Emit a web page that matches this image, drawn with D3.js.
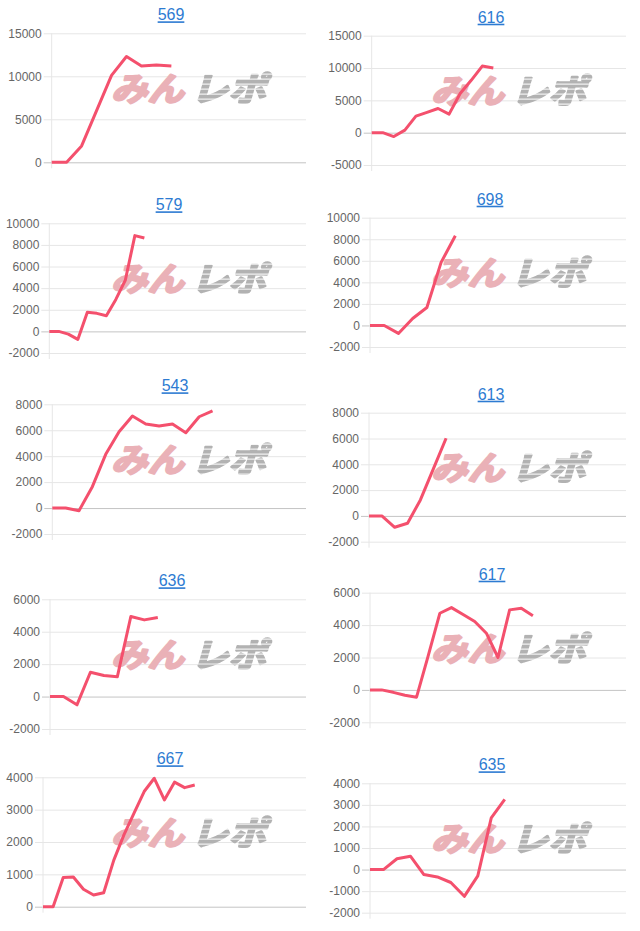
<!DOCTYPE html>
<html><head><meta charset="utf-8">
<script src="https://cdn.jsdelivr.net/npm/d3@7"></script>
<style>body{margin:0;background:#fff}svg{display:block}</style>
</head><body>
<script>
// ---- data ----
const titles = ["569","616","579","698","543","613","636","617","667","635"];
const s569 = [0, 0, 1900, 6000, 10100, 12300, 11200, 11300, 11200];
const s616 = [0, 0, -600, 400, 2560, 3130, 3740, 2870, 6050, 8100, 10300, 10000];
const s579 = [0, 0, -250, -740, 1760, 1670, 1450, 2960, 4750, 8860, 8640];
const s698 = [0, 0, -740, 650, 1670, 5850, 8330];
const s543 = [0, 0, -200, 1650, 4140, 5890, 7100, 6480, 6320, 6480, 5810, 7040, 7500];
const s613 = [0, 0, -880, -570, 1240, 3620, 6020];
const s636 = [0, 0, -510, 1500, 1300, 1230, 4940, 4730, 4880];
const s617 = [0, 0, -150, -330, -450, 2100, 4730, 5080, 4650, 4220, 3500, 2000, 4940, 5040, 4570];
const s667 = [0, 0, 900, 920, 540, 360, 430, 1440, 2220, 2890, 3560, 3970, 3300, 3850, 3680, 3760];
const s635 = [0, 0, 500, 620, -230, -340, -600, -1240, -290, 2400, 3250];
const series = [s569, s616, s579, s698, s543, s613, s636, s617, s667, s635];
const slotCounts = [18, 24, 28, 19, 20, 21, 20, 23, 27, 20];
const yMins = [0, -5000, -2000, -2000, -2000, -2000, -2000, -2000, 0, -2000];
const yMaxs = [15000, 15000, 10000, 10000, 8000, 8000, 6000, 6000, 4000, 4000];
const ySteps = [5000, 5000, 2000, 2000, 2000, 2000, 2000, 2000, 1000, 1000];

// ---- layout ----
const W = 640, H = 931;
const layout = [
  {col:0, top:33.3,  bottom:162.3, left:51.7, tx:171},
  {col:1, top:35.7,  bottom:165,   left:51.7, tx:171},
  {col:0, top:223.3, bottom:353,   left:49.3, tx:169},
  {col:1, top:217.7, bottom:347,   left:50,   tx:170},
  {col:0, top:404.3, bottom:534,   left:52.3, tx:175},
  {col:1, top:412.7, bottom:541.7, left:49,   tx:171},
  {col:0, top:599.3, bottom:729,   left:50,   tx:172},
  {col:1, top:592.7, bottom:722.3, left:50,   tx:172},
  {col:0, top:777.3, bottom:906.7, left:43,   tx:170},
  {col:1, top:783.3, bottom:912.7, left:50,   tx:172}
];
const RIGHT = 306;
const lineColor = "#f4506d";

const svg = d3.select("body").append("svg").attr("width", W).attr("height", H)
  .style("font-family", "'Liberation Sans', Arial, Helvetica, sans-serif");

const defs = svg.append("defs");
const pat = defs.append("pattern").attr("id","stripes").attr("patternUnits","userSpaceOnUse")
  .attr("width", 10).attr("height", 5);
pat.append("rect").attr("width",10).attr("height",5).attr("fill","#fff");
pat.append("rect").attr("y",3.6).attr("width",10).attr("height",1).attr("fill","#000");
const mask = defs.append("mask").attr("id","stripeMask").attr("maskUnits","userSpaceOnUse")
  .attr("x",0).attr("y",0).attr("width",W).attr("height",H);
mask.append("rect").attr("width",W).attr("height",H).attr("fill","url(#stripes)");

titles.forEach((title, i) => {
  const L = layout[i];
  const ox = L.col * 320;
  const g = svg.append("g").attr("transform", `translate(${ox},0)`);
  const left = L.left, right = RIGHT;
  const x = d3.scalePoint().domain(d3.range(slotCounts[i])).range([left, right]).padding(0);
  const y = d3.scaleLinear().domain([yMins[i], yMaxs[i]]).range([L.bottom, L.top]);
  const ticks = d3.range(yMins[i], yMaxs[i] + ySteps[i] / 2, ySteps[i]);

  // title
  g.append("text").attr("x", L.tx).attr("y", L.top - 13)
    .attr("text-anchor", "middle").attr("font-size", 16).attr("fill", "#2d7bd2")
    .style("text-decoration", "underline").text(title);

  // axis + gridlines
  const ax = g.append("g").attr("transform", `translate(${right},0)`)
    .call(d3.axisLeft(y).tickValues(ticks).tickSize(right - left + 8).tickPadding(2).tickFormat(d => String(d)));
  ax.select(".domain").remove();
  ax.selectAll(".tick line").attr("stroke", d => d === 0 ? "#c4c4c4" : "#e6e6e6").attr("stroke-width", 1);
  ax.selectAll(".tick text").attr("fill", "#666").attr("font-size", 12)
    .attr("font-family", "'Liberation Sans', Arial, sans-serif");
  g.append("line").attr("x1", left).attr("x2", left).attr("y1", L.top).attr("y2", L.bottom + 6)
    .attr("stroke", "#e6e6e6");

  // watermark
  const wy = (L.top + L.bottom) / 2 - 9;
  const wm = g.append("g").attr("font-family", "'Noto Sans CJK JP', sans-serif")
    .attr("font-weight", 700).attr("font-style", "italic").attr("font-size", 33);
  wm.append("text").attr("x", 111).attr("y", wy + 12).attr("textLength", 73)
    .attr("lengthAdjust", "spacingAndGlyphs").attr("fill", "#eab1b7")
    .attr("stroke", "#eab1b7").attr("stroke-width", 2.2).attr("stroke-linejoin", "round").text("みん");
  wm.append("text").attr("x", 191).attr("y", wy + 12).attr("textLength", 75)
    .attr("lengthAdjust", "spacingAndGlyphs").attr("fill", "#b2b2b2")
    .attr("stroke", "#b2b2b2").attr("stroke-width", 2.2).attr("stroke-linejoin", "round")
    .attr("mask", "url(#stripeMask)").text("レポ");

  // line
  g.append("path").datum(series[i])
    .attr("fill", "none").attr("stroke", lineColor).attr("stroke-width", 3)
    .attr("stroke-linejoin", "round").attr("stroke-linecap", "butt")
    .attr("d", d3.line().x((d, j) => x(j)).y(d => y(d)));
});
</script>
</body></html>
